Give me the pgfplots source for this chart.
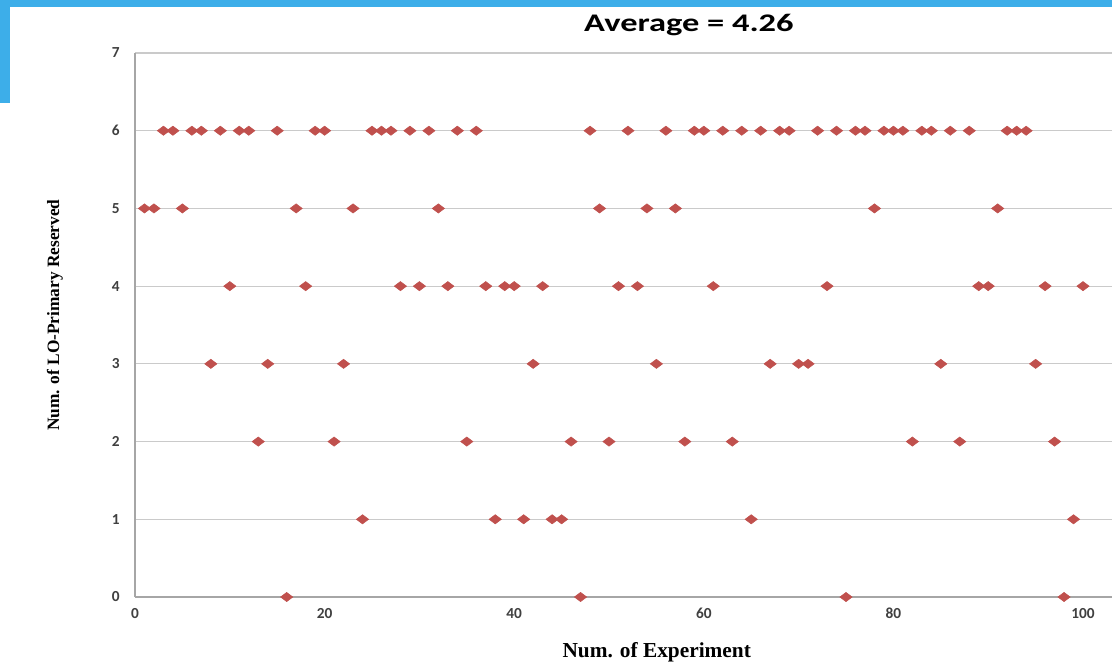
\documentclass[border=0pt]{standalone}
\usepackage{pgfplots}
\pgfplotsset{compat=1.18}
\usepackage{pgfplotstable}
\usepackage{fontspec}
\setmainfont{Liberation Serif}
\newfontfamily\carlito{Carlito}
\definecolor{mk}{HTML}{C0504D}
\definecolor{bluebar}{HTML}{3DAEE9}
\definecolor{gridc}{HTML}{CACACA}
\definecolor{axc}{HTML}{A6A6A6}
\definecolor{tickc}{HTML}{404040}

\pgfplotstableread{
x y
1 5
2 5
3 6
4 6
5 5
6 6
7 6
8 3
9 6
10 4
11 6
12 6
13 2
14 3
15 6
16 0
17 5
18 4
19 6
20 6
21 2
22 3
23 5
24 1
25 6
26 6
27 6
28 4
29 6
30 4
31 6
32 5
33 4
34 6
35 2
36 6
37 4
38 1
39 4
40 4
41 1
42 3
43 4
44 1
45 1
46 2
47 0
48 6
49 5
50 2
51 4
52 6
53 4
54 5
55 3
56 6
57 5
58 2
59 6
60 6
61 4
62 6
63 2
64 6
65 1
66 6
67 3
68 6
69 6
70 3
71 3
72 6
73 4
74 6
75 0
76 6
77 6
78 5
79 6
80 6
81 6
82 2
83 6
84 6
85 3
86 6
87 2
88 6
89 4
90 4
91 5
92 6
93 6
94 6
95 3
96 4
97 2
98 0
99 1
100 4
}\datatable

\begin{document}
\begin{tikzpicture}[x=0.75pt,y=0.75pt]
\useasboundingbox (0,0) rectangle (1112,662);
\fill[white] (0,0) rectangle (1112,662);
\fill[bluebar] (0,655) rectangle (1112,662);
\fill[bluebar] (0,559) rectangle (10,662);
\begin{axis}[
  at={(101.25pt,48.75pt)}, anchor=south west,
  scale only axis, width=732.75pt, height=408pt,
  xmin=0, xmax=103.06, ymin=0, ymax=7,
  axis x line*=bottom, axis y line*=left,
  axis line style={axc, line width=0.9pt},
  ytick={0,...,7}, xtick={0,20,...,100},
  ymajorgrids, major grid style={gridc, line width=0.9pt},
  major tick length=0pt,
  /pgf/number format/assume math mode=true,
  tick label style={font=\carlito\bfseries\fontsize{11.5}{11.5}\selectfont, text=tickc},
  yticklabel style={xshift=-8pt},
  xticklabel style={yshift=-5pt},
  xlabel={Num. of Experiment},
  ylabel={Num. of LO-Primary Reserved},
  xlabel style={at={(axis description cs:0.534,-0.101)}, anchor=center,
     font=\bfseries\fontsize{16}{16}\selectfont},
  ylabel style={at={(axis description cs:-0.082,0.518)}, anchor=center,
     font=\bfseries\fontsize{13}{13}\selectfont},
  clip=false,
]
\addplot[only marks, mark=diamond*, mark size=4.6pt,
  mark options={rotate=90, fill=mk, draw=mk}] table[x=x,y=y] {\datatable};
\node[anchor=center, font=\carlito\bfseries\fontsize{19}{19}\selectfont]
  at (axis description cs:0.567,1.052) {\scalebox{1.36}[1]{Average = 4.26}};
\end{axis}
\end{tikzpicture}
\end{document}
